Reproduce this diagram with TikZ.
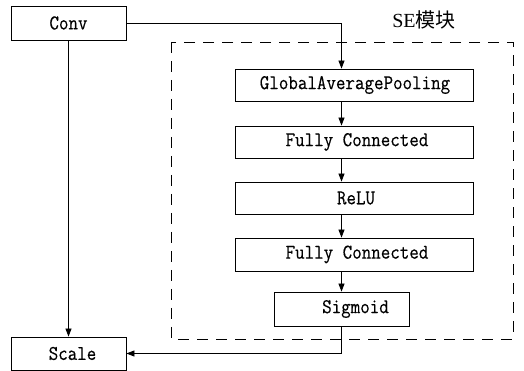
\documentclass[tikz,border=0pt]{standalone}
\usepackage{fontspec}
\newfontfamily\cjk{Noto Sans CJK SC}
\newfontfamily\mono[FakeStretch=0.88,FakeBold=0.4]{Latin Modern Mono}
\newfontfamily\serif{Liberation Serif}
\usetikzlibrary{arrows.meta}
\begin{document}
\begin{tikzpicture}[x=1pt,y=1pt,
  box/.style={draw,line width=0.8pt,inner sep=0pt,font=\mono\fontsize{21}{23}\selectfont},
  arr/.style={line width=0.8pt,-{Triangle[length=8pt,width=6pt]}},
  ln/.style={line width=0.8pt}]
\useasboundingbox (0,0) rectangle (524,371);
\node[box,minimum width=115,minimum height=34] (conv) at (68.5,348) {Conv};
\node[box,minimum width=115,minimum height=33] (scale) at (68.5,17.5) {\hspace*{8pt}Scale};
\node[box,minimum width=238,minimum height=32] (gap) at (354,286) {\hspace*{2pt}GlobalAveragePooling};
\node[box,minimum width=238,minimum height=32] (fc1) at (354,229) {\hspace*{6pt}Fully Connected};
\node[box,minimum width=238,minimum height=32] (relu) at (354,173) {\hspace*{4pt}ReLU};
\node[box,minimum width=238,minimum height=33] (fc2) at (354,116.5) {\hspace*{6pt}Fully Connected};
\node[box,minimum width=135,minimum height=34] (sig) at (341.5,62) {\hspace*{28pt}Sigmoid};
\draw[ln,dash pattern=on 11pt off 8pt] (171,329) rectangle (513,32);
\node[font=\fontsize{20}{22}\selectfont] (se) at (424,351) {\serif SE\cjk 模块};
\coordinate (c1) at (conv.east -| sig.north);
\coordinate (c2) at (sig.south |- scale.east);
\draw[arr] (conv.east) -- (c1) -- (gap.north -| sig.north);
\draw[arr] (gap.south -| sig.north) -- (fc1.north -| sig.north);
\draw[arr] (fc1.south -| sig.north) -- (relu.north -| sig.north);
\draw[arr] (relu.south -| sig.north) -- (fc2.north -| sig.north);
\draw[arr] (fc2.south -| sig.north) -- (sig.north);
\draw[arr] (conv.south) -- (scale.north);
\draw[arr] (sig.south) -- (c2) -- (scale.east);
\end{tikzpicture}
\end{document}
